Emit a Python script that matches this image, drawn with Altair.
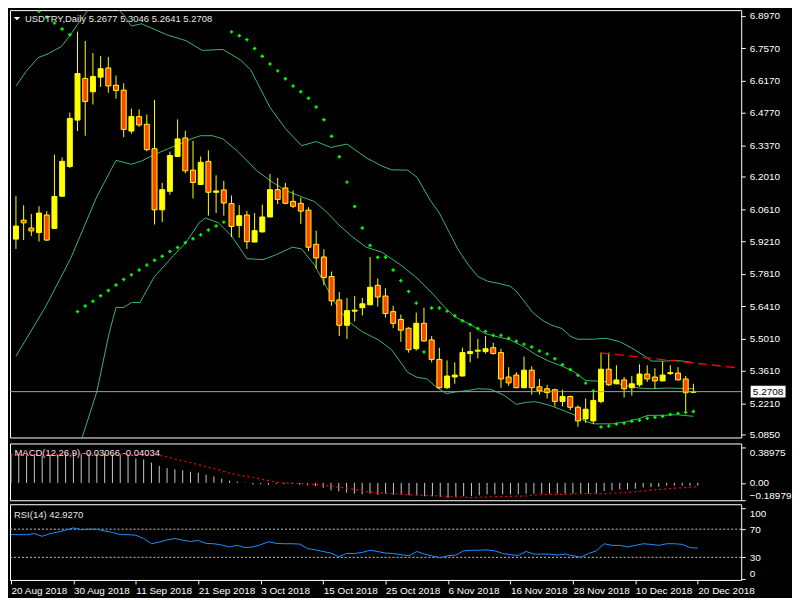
import altair as alt
import pandas as pd

# ---------------- data ----------------
opens = [5.9310, 6.0129, 5.9791, 5.9593, 6.0353, 5.9774, 6.1168, 6.2452, 6.4463, 6.6267,
         6.5688, 6.6322, 6.6719, 6.5971, 6.5760, 6.3986, 6.4619, 6.4281, 6.3225, 6.0577,
         6.1380, 6.2888, 6.3690, 6.2296, 6.1675, 6.2676, 6.1337, 6.1439, 6.0847, 5.9901,
         6.0353, 5.9183, 5.9622, 6.0269, 6.1451, 6.1523, 6.0945, 6.0860, 6.0564, 5.9086,
         5.8537, 5.7692, 5.6678, 5.5580, 5.6192, 5.6340, 5.6467, 5.7312, 5.6847, 5.6171,
         5.5833, 5.5453, 5.4566, 5.5665, 5.4946, 5.4102, 5.2877, 5.3341, 5.3384, 5.4355,
         5.4461, 5.4440, 5.4609, 5.4397, 5.3341, 5.3426, 5.2877, 5.3637, 5.2919, 5.2834,
         5.2792, 5.2285, 5.2497, 5.2032, 5.1525, 5.1441, 5.2285, 5.3679, 5.3046, 5.3215,
         5.2877, 5.3003, 5.3468, 5.3341, 5.3172, 5.3489, 5.3510, 5.3257, 5.2677]
highs = [6.1168, 6.0776, 6.0395, 6.0733, 6.0522, 6.2972, 6.2845, 6.4788, 6.8294, 6.7885,
         6.7365, 6.7238, 6.7196, 6.6393, 6.6056, 6.4957, 6.4928, 6.4704, 6.5337, 6.1747,
         6.3099, 6.4493, 6.3998, 6.3563, 6.2888, 6.3154, 6.2072, 6.1832, 6.1198, 6.0776,
         6.0535, 6.0438, 6.0805, 6.2127, 6.1958, 6.1747, 6.1409, 6.1113, 6.0691, 5.9677,
         5.8875, 5.7903, 5.7016, 5.6763, 5.6847, 5.6763, 5.8537, 5.7608, 5.7185, 5.6425,
         5.6045, 5.5496, 5.6129, 5.6340, 5.5115, 5.4609, 5.4059, 5.3975, 5.4609, 5.5284,
         5.4989, 5.5115, 5.4820, 5.4566, 5.3764, 5.3553, 5.4228, 5.3806, 5.3257, 5.3003,
         5.2830, 5.2792, 5.2539, 5.2116, 5.2412, 5.2665, 5.4397, 5.4397, 5.3848, 5.3341,
         5.3384, 5.3890, 5.3848, 5.3721, 5.4017, 5.3848, 5.3764, 5.3384, 5.3046]
lows = [5.8887, 5.9268, 5.9453, 5.9200, 5.9225, 5.9760, 6.1150, 6.2393, 6.3986, 6.3787,
        6.5139, 6.5899, 6.5646, 6.5392, 6.3720, 6.3872, 6.4167, 6.3111, 5.9943, 6.0045,
        6.1240, 6.2858, 6.2157, 6.1071, 6.1650, 6.0324, 6.0438, 6.0324, 5.9394, 5.9369,
        5.8887, 5.9175, 5.9593, 6.0255, 6.0818, 6.0818, 6.0649, 5.9973, 5.8790, 5.8030,
        5.7312, 5.6425, 5.5115, 5.4989, 5.5749, 5.6002, 5.6450, 5.6383, 5.5918, 5.5453,
        5.4862, 5.4397, 5.4482, 5.4862, 5.3975, 5.2834, 5.2834, 5.3046, 5.3370, 5.3975,
        5.4144, 5.4355, 5.4313, 5.2877, 5.2961, 5.2860, 5.2860, 5.2581, 5.2581, 5.2412,
        5.2074, 5.2074, 5.1905, 5.1187, 5.1356, 5.1314, 5.2201, 5.2961, 5.3030, 5.2454,
        5.2539, 5.2919, 5.3130, 5.2834, 5.3160, 5.3426, 5.3200, 5.1821, 5.2641]
closes = [5.9876, 6.0015, 5.9665, 6.0438, 5.9268, 6.1156, 6.2676, 6.4535, 6.6478, 6.5266,
          6.6351, 6.6689, 6.5942, 6.5747, 6.4058, 6.4619, 6.4252, 6.3183, 6.0577, 6.1451,
          6.2930, 6.3648, 6.2267, 6.1760, 6.2634, 6.1337, 6.1396, 6.0873, 5.9859, 6.0324,
          5.9200, 5.9677, 6.0269, 6.1451, 6.1029, 6.0860, 6.0733, 6.0522, 5.8959, 5.8495,
          5.7650, 5.6636, 5.5580, 5.6214, 5.6235, 5.6509, 5.7227, 5.6805, 5.6087, 5.5665,
          5.5369, 5.4524, 5.5665, 5.4904, 5.4102, 5.2877, 5.3384, 5.3426, 5.4397, 5.4440,
          5.4503, 5.4566, 5.4355, 5.3257, 5.3088, 5.2877, 5.3637, 5.2877, 5.2750, 5.2665,
          5.2285, 5.2497, 5.2032, 5.1441, 5.1947, 5.2328, 5.3679, 5.3003, 5.3215, 5.2834,
          5.3046, 5.3468, 5.3257, 5.3172, 5.3426, 5.3531, 5.3215, 5.2660, 5.2708]

# Bollinger bands (bar position, price)
upper_i = [0, 1.3, 2.9, 4.2, 5.9, 7, 8, 9, 10, 11, 12, 13, 14, 15, 16.3, 17.5, 19.6, 22.1, 24.2, 26.9,
           29.2, 30.5, 33, 35, 37.1, 39, 40.9, 43, 45.5, 47.5, 48.8, 50.9, 52.1, 53.8, 55, 56.3, 57.5, 58.8,
           60, 61.3, 62.5, 64.2, 65, 66.3, 67.1, 68.4, 69.6, 70.9, 72.1, 73, 75, 76.7, 78.4, 80, 81.7, 82.5,
           84.2, 85.9, 88]
upper_v = [6.5929, 6.6562, 6.7166, 6.7335, 6.7648, 6.8113, 6.8603, 6.905, 6.952, 6.9815, 6.973, 6.935,
           6.901, 6.8535, 6.8632, 6.8463, 6.8155, 6.7901, 6.7479, 6.7521, 6.7057, 6.6634, 6.5012, 6.4100,
           6.3352, 6.3534, 6.3280, 6.3424, 6.2833, 6.2478, 6.2309, 6.2296, 6.1988, 6.1000, 6.0438, 5.9593,
           5.8820, 5.8186, 5.7692, 5.7481, 5.7409, 5.7270, 5.7058, 5.6497, 5.6142, 5.5791, 5.5580, 5.5441,
           5.5086, 5.4976, 5.4976, 5.5018, 5.4875, 5.4596, 5.4241, 5.4030, 5.4030, 5.4060, 5.3963]
mid_i = [0, 3.8, 7.1, 10.5, 13, 15, 16.3, 18, 20.5, 23, 24, 25.5, 26.9, 28.8, 31.3, 33, 35, 37.1, 38.8,
         40.5, 42.1, 43.8, 45.5, 47.5, 50, 52.1, 54.2, 55.9, 57.1, 59.2, 60.9, 62.5, 64.2, 65.9, 67.5, 69.2,
         70.9, 72.5, 74, 75.9, 77.5, 79.2, 80.9, 82.5, 84.6, 88]
mid_v = [5.4240, 5.6353, 5.8465, 6.1143, 6.2718, 6.2550, 6.2689, 6.2972, 6.3323, 6.3678, 6.3787, 6.3787,
         6.3648, 6.3112, 6.2267, 6.1844, 6.1422, 6.1143, 6.0932, 6.0438, 5.9876, 5.9382, 5.8959, 5.8748,
         5.8186, 5.7620, 5.6919, 5.6285, 5.5931, 5.5580, 5.5229, 5.5086, 5.4947, 5.4663, 5.4313, 5.4030,
         5.3819, 5.3565, 5.3188, 5.3160, 5.3118, 5.2974, 5.2864, 5.2834, 5.2864, 5.2834]
lower_i = [0, 4, 7, 8.6, 10.5, 12.1, 13, 14, 15, 16.1, 18, 20.5, 22.1, 23.8, 24.6, 26.3, 28, 30, 32.1,
           33.8, 35.9, 37.1, 38.8, 41.3, 43, 45, 47.1, 48.8, 50.9, 52.1, 53.4, 54.6, 55.9, 57.1, 58.8, 60,
           61.7, 63.4, 65, 66.3, 67.5, 69.2, 70.9, 72.5, 73.8, 75, 77.5, 79.2, 80.9, 82.1, 84.2, 85.9, 88]
lower_v = [4.2528, 4.5949, 4.8864, 5.0722, 5.2695, 5.5229, 5.6353, 5.6353, 5.6564, 5.6564, 5.7692, 5.8608,
           5.9170, 6.0015, 6.0226, 6.0015, 5.9453, 5.8465, 5.8422, 5.8634, 5.8959, 5.8887, 5.8186, 5.6636,
           5.5791, 5.5297, 5.4947, 5.4524, 5.3539, 5.3328, 5.3257, 5.2906, 5.2623, 5.2695, 5.2763, 5.2834,
           5.2805, 5.2551, 5.2159, 5.2243, 5.2273, 5.2130, 5.1919, 5.1707, 5.1454, 5.1314, 5.1314, 5.1398,
           5.1538, 5.1682, 5.1682, 5.1707, 5.1640]

# Parabolic SAR
sar_i = list(range(3, 89))
sar_v = [6.9169, 6.8915, 6.8662, 6.8408, 6.8155,
         5.6172, 5.6412, 5.6623, 5.6860, 5.7088, 5.7325, 5.7565, 5.7764, 5.7975, 5.8186,
         5.8397, 5.8566, 5.8777, 5.8946, 5.9157, 5.9327, 5.9495, 5.9707, 5.9876, 6.0045,
         6.8282, 6.8113, 6.7944, 6.7563, 6.7226, 6.6888, 6.6592, 6.6254, 6.5941, 6.5688,
         6.5409, 6.5029, 6.4480, 6.3762, 6.2875, 6.1777, 6.0720, 5.9791, 5.9031, 5.8524,
         5.8524, 5.7975, 5.7511, 5.7046, 5.6539, 5.4427, 5.6327, 5.6327, 5.6192, 5.5990,
         5.5779, 5.5610, 5.5441, 5.5314, 5.5145, 5.5145, 5.5018, 5.4892, 5.4765, 5.4638,
         5.4469, 5.4343, 5.4131, 5.3878, 5.3667, 5.3414, 5.3076, 5.2738, 5.1175, 5.1217,
         5.1301, 5.1343, 5.1428, 5.1470, 5.1555, 5.1597, 5.1639, 5.1724, 5.1766, 5.1808,
         5.1850]

# red dashed trend line (two anchor points)
trend_i = [76, 93.4]
trend_v = [5.4385, 5.3751]

last_price = 5.2708
price_ticks = [6.8970, 6.7570, 6.6170, 6.4770, 6.3370, 6.2010, 6.0610, 5.9210,
               5.7810, 5.6410, 5.5010, 5.3610, 5.2210, 5.0850]

# MACD histogram and signal
macd_hist = [0.32, 0.31, 0.30, 0.30, 0.30, 0.31, 0.31, 0.32, 0.33, 0.32,
             0.32, 0.32, 0.32, 0.31, 0.31, 0.31, 0.268, 0.257, 0.222, 0.186,
             0.161, 0.150, 0.139, 0.122, 0.111, 0.089, 0.071, 0.046, 0.025, 0.014,
             0.004, -0.018, -0.014, -0.021, -0.011, -0.011, -0.011, -0.018, -0.029, -0.036,
             -0.054, -0.082, -0.093, -0.107, -0.118, -0.125, -0.118, -0.129, -0.118, -0.129,
             -0.129, -0.136, -0.136, -0.147, -0.147, -0.154, -0.165, -0.154, -0.147, -0.143,
             -0.136, -0.125, -0.125, -0.125, -0.125, -0.125, -0.118, -0.118, -0.118, -0.118,
             -0.118, -0.118, -0.118, -0.118, -0.118, -0.118, -0.089, -0.082, -0.071, -0.071,
             -0.064, -0.050, -0.046, -0.043, -0.029, -0.029, -0.029, -0.030, -0.03066]
signal_i = [0, 4, 8, 12, 16, 18.4, 19.6, 21.3, 23, 24.6, 26.3, 28, 29.6, 31.3, 33, 34.6, 36.3, 38, 39.6,
            41.3, 43, 44.6, 45.9, 47.5, 49.2, 50.9, 52.5, 54.2, 55.9, 57.5, 59.2, 60.9, 62.5, 64.2, 65.9,
            67.5, 69.2, 70.9, 72.5, 74.2, 75.9, 77.5, 79.2, 80.9, 82.5, 84.2, 85.9, 87.6, 88]
signal_v = [0.31, 0.31, 0.315, 0.32, 0.31, 0.31, 0.293, 0.257, 0.221, 0.186, 0.150, 0.107, 0.079, 0.054,
            0.025, 0.0, -0.004, -0.011, -0.021, -0.039, -0.057, -0.082, -0.100, -0.111, -0.118, -0.129,
            -0.136, -0.139, -0.147, -0.154, -0.161, -0.154, -0.150, -0.147, -0.143, -0.129, -0.125, -0.125,
            -0.118, -0.118, -0.118, -0.111, -0.104, -0.089, -0.075, -0.064, -0.054, -0.043, -0.04034]
macd_ticks = [0.38975, 0.0, -0.18979]

# RSI(14)
rsi = [62.2, 62.2, 62.2, 63.6, 59.9, 63.6, 65.9, 68.6, 71.8, 69.1,
       70, 70, 67.2, 65.4, 62.2, 62.2, 61.3, 56.7, 49.3, 51.6,
       54.8, 56.7, 54.4, 52.5, 53.9, 49.8, 49.3, 47.5, 44.7, 47,
       43.8, 44.7, 47.9, 52.1, 49.8, 49.3, 49.3, 48.8, 42.4, 40.6,
       38.3, 36, 30.9, 35.5, 35.5, 36.9, 40.1, 38.3, 36, 35.5,
       33.7, 32.3, 38.3, 34.6, 31.8, 29.5, 32.3, 33.2, 39.2, 40.1,
       40.1, 40.6, 39.2, 35.5, 33.7, 32.7, 38.3, 34.6, 34.6, 34.6,
       33.2, 34.6, 32.3, 30, 35.5, 39.2, 49.3, 47, 47, 44.7,
       47, 49.3, 48.4, 47, 49.3, 49.3, 48.4, 43.8, 42.927]
rsi_levels = [70, 30]
rsi_ticks = [100, 70, 30, 0]

date_pos = [0, 8, 16, 24, 32, 40, 48, 56, 64, 72, 80, 88]
date_labels = ["20 Aug 2018", "30 Aug 2018", "11 Sep 2018", "21 Sep 2018", "3 Oct 2018",
               "15 Oct 2018", "25 Oct 2018", "6 Nov 2018", "16 Nov 2018", "28 Nov 2018",
               "10 Dec 2018", "20 Dec 2018"]

title_text = "USDTRY,Daily  5.2677 5.3046 5.2641 5.2708"
macd_text = "MACD(12,26,9) -0.03066 -0.04034"
rsi_text = "RSI(14) 42.9270"

# ---------------- layout / style ----------------
W = 734
H_MAIN, H_MACD, H_RSI = 429, 57, 76
FONT = "Liberation Sans"
TXT = "#E6E6E6"

xs = alt.Scale(domain=[-0.125, 93.56], nice=False, zero=False)
X = alt.X("i:Q", scale=xs, axis=None)
ps = alt.Scale(domain=[5.0723, 6.9223], nice=False, zero=False)
main_axis = alt.Axis(orient="right", values=price_ticks, format=".4f", title=None,
                     labelFlush=False, labelOverlap=False)

candles = pd.DataFrame({"i": list(range(len(opens))), "open": opens, "high": highs,
                        "low": lows, "close": closes})
bands = pd.concat([
    pd.DataFrame({"i": upper_i, "v": upper_v, "band": "upper"}),
    pd.DataFrame({"i": mid_i, "v": mid_v, "band": "mid"}),
    pd.DataFrame({"i": lower_i, "v": lower_v, "band": "lower"}),
])
sar = pd.DataFrame({"i": sar_i, "v": sar_v})
trend = pd.DataFrame({"i": trend_i, "v": trend_v})
cur = pd.DataFrame({"v": [last_price], "label": [f"{last_price:.4f}"]})

band_lines = alt.Chart(bands).mark_line(color="#3CB371", strokeWidth=1, clip=True).encode(
    x=X, y=alt.Y("v:Q", scale=ps, axis=main_axis), detail="band:N", order="i:Q")
wicks = alt.Chart(candles).mark_rule(color="#FFFF00", strokeWidth=1, clip=True).encode(
    x=X, y=alt.Y("low:Q", scale=ps, axis=main_axis), y2="high:Q")
bodies = alt.Chart(candles).mark_bar(size=5, stroke="#FFFF00", strokeWidth=1, clip=True).encode(
    x=X, y=alt.Y("open:Q", scale=ps, axis=main_axis), y2="close:Q",
    fill=alt.condition("datum.close >= datum.open", alt.value("#FFFF00"), alt.value("#FF4500")))
sar_pts = alt.Chart(sar).mark_point(shape="cross", filled=True, size=12, color="#00FF00",
                                    opacity=1, clip=True).encode(
    x=X, y=alt.Y("v:Q", scale=ps, axis=main_axis))
trend_line = alt.Chart(trend).mark_line(color="#FF0000", strokeWidth=1.3, strokeDash=[9, 5],
                                        clip=True).encode(
    x=X, y=alt.Y("v:Q", scale=ps, axis=main_axis))
cur_rule = alt.Chart(cur).mark_rule(color="#A0A0A0", strokeWidth=1).encode(
    y=alt.Y("v:Q", scale=ps, axis=main_axis))
box = alt.Chart(cur).mark_point(shape="M-1,-0.34L1,-0.34L1,0.34L-1,0.34Z", filled=True,
                                color="white", size=1225, opacity=1).encode(
    x=alt.value(W + 27), y=alt.Y("v:Q", scale=ps, axis=main_axis))
box_txt = alt.Chart(cur).mark_text(color="black", font=FONT, fontSize=10, align="center",
                                   baseline="middle").encode(
    x=alt.value(W + 27), y=alt.Y("v:Q", scale=ps, axis=main_axis), text="label:N")
tri = alt.Chart(cur).mark_point(shape="M-1,-0.5L1,-0.5L0,0.5Z", filled=True, color="white",
                                size=40, opacity=1).encode(x=alt.value(7), y=alt.value(8.5))
title = alt.Chart(cur).mark_text(color=TXT, font=FONT, fontSize=9.5, align="left",
                                 baseline="middle").encode(
    x=alt.value(15), y=alt.value(8.5), text=alt.value(title_text))

main = alt.layer(band_lines, wicks, bodies, sar_pts, trend_line, cur_rule, box, box_txt,
                 tri, title).properties(width=W, height=H_MAIN)

# MACD panel
ms = alt.Scale(domain=[-0.18979, 0.4321], nice=False, zero=False)
macd_axis = alt.Axis(orient="right", values=macd_ticks, title=None, labelFlush=6,
                     labelOverlap=False,
                     labelExpr="datum.value == 0 ? '0.00' : format(datum.value, '.5f')")
macd_df = pd.DataFrame({"i": list(range(len(macd_hist))), "h": macd_hist})
sig_df = pd.DataFrame({"i": signal_i, "v": signal_v})
hist = alt.Chart(macd_df).transform_calculate(z="0").mark_rule(
    color="#C8C8C8", strokeWidth=1).encode(
    x=X, y=alt.Y("h:Q", scale=ms, axis=macd_axis), y2="z:Q")
sig = alt.Chart(sig_df).mark_line(color="#FF0000", strokeWidth=1.2, strokeDash=[2, 3]).encode(
    x=X, y=alt.Y("v:Q", scale=ms, axis=macd_axis))
macd_lbl = alt.Chart(cur).mark_text(color=TXT, font=FONT, fontSize=9.5, align="left",
                                    baseline="middle").encode(
    x=alt.value(4.5), y=alt.value(9.5), text=alt.value(macd_text))
macd = alt.layer(hist, sig, macd_lbl).properties(width=W, height=H_MACD)

# RSI panel
rs = alt.Scale(domain=[-2.1, 105.4], nice=False, zero=False)
rsi_axis = alt.Axis(orient="right", values=rsi_ticks, title=None, labelFlush=5,
                    labelOverlap=False, format="d")
label_expr = "[" + ",".join(f"'{d}'" for d in date_labels) + "][round(datum.value / 8)]"
x_axis = alt.Axis(orient="bottom", values=date_pos, labelExpr=label_expr, labelAlign="left",
                  labelFlush=False, labelOverlap=False, labelBound=False, title=None,
                  tickSize=4, labelPadding=2)
X_rsi = alt.X("i:Q", scale=xs, axis=x_axis)
rsi_df = pd.DataFrame({"i": list(range(len(rsi))), "r": rsi})
lvl_df = pd.DataFrame({"v": rsi_levels})
rsi_line = alt.Chart(rsi_df).mark_line(color="#1E90FF", strokeWidth=1).encode(
    x=X_rsi, y=alt.Y("r:Q", scale=rs, axis=rsi_axis))
lvls = alt.Chart(lvl_df).mark_rule(color="#C8C8C8", strokeWidth=1, strokeDash=[2, 2]).encode(
    y=alt.Y("v:Q", scale=rs, axis=rsi_axis))
rsi_lbl = alt.Chart(cur).mark_text(color=TXT, font=FONT, fontSize=9.5, align="left",
                                   baseline="middle").encode(
    x=alt.value(4), y=alt.value(10.5), text=alt.value(rsi_text))
rsi_panel = alt.layer(lvls, rsi_line, rsi_lbl).properties(width=W, height=H_RSI)

chart = alt.vconcat(main, macd, rsi_panel, spacing=2, padding=0).configure(
    background="#000000"
).configure_view(stroke="#FFFFFF", strokeWidth=1).configure_axis(
    labelColor="#FFFFFF", tickColor="#FFFFFF", domain=False, grid=False,
    labelFont=FONT, labelFontSize=10, tickSize=4, labelPadding=4
)

chart.save("out.html", embed_options={"renderer": "svg", "actions": False})
